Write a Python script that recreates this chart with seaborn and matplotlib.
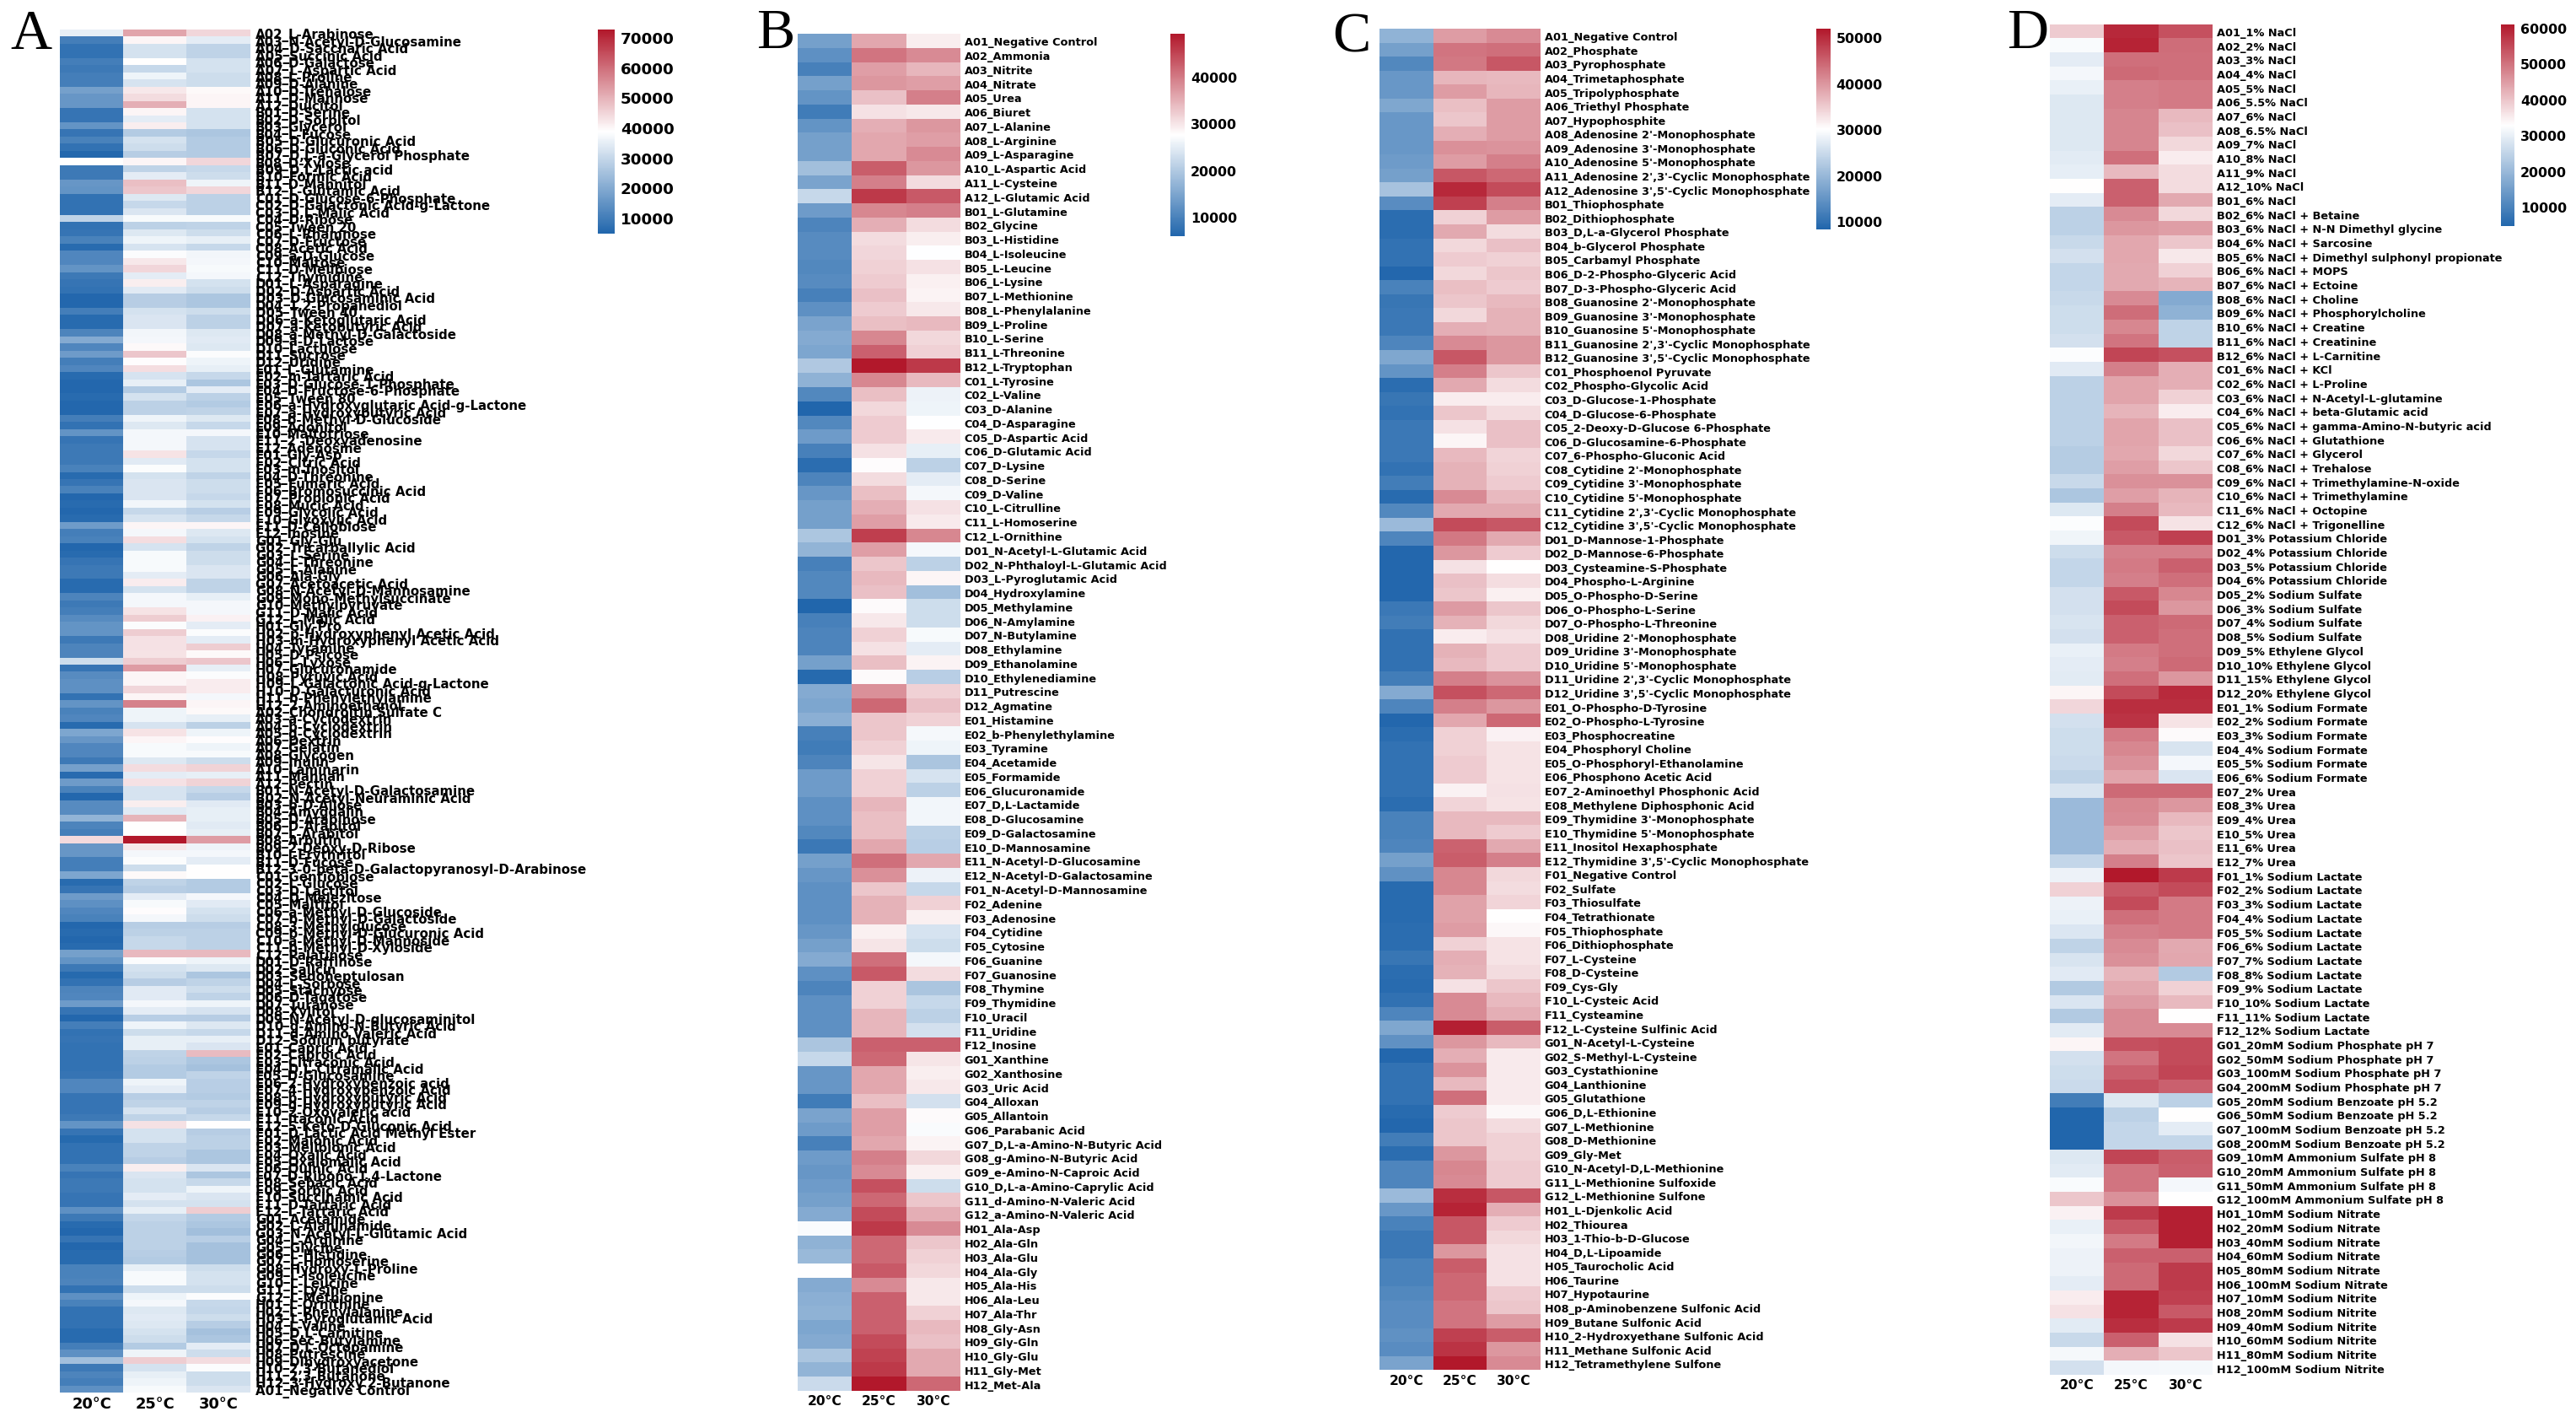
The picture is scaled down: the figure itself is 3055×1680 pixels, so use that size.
import numpy as np
import pandas as pd
import matplotlib
matplotlib.use("Agg")
import matplotlib.pyplot as plt
import seaborn as sns

W, H = 3055, 1681
temps = ["20°C", "25°C", "30°C"]

# Panel A - carbon sources, values in thousands
a_labels = [
    "A02_L-Arabinose", "A03_N-Acetyl-D-Glucosamine", "A04_D-Saccharic Acid", "A05_Succinic Acid", "A06_D-Galactose",
    "A07_L-Aspartic Acid", "A08_L-Proline", "A09_D-Alanine", "A10_D-Trehalose", "A11_D-Mannose", "A12_Dulcitol",
    "B01_D-Serine", "B02_D-Sorbitol", "B03_Glycerol", "B04_L-Fucose", "B05_D-Glucuronic Acid", "B06_D-Gluconic Acid",
    "B07_D,L-a-Glycerol Phosphate", "B08_D-Xylose", "B09_D,L-Lactic acid", "B10_Formic Acid", "B11_D-Mannitol",
    "B12_L-Glutamic Acid", "C01_D-Glucose-6-Phosphate", "C02_D-Galactonic Acid-g-Lactone", "C03_D,L-Malic Acid",
    "C04_D-Ribose", "C05_Tween 20", "C06_L-Rhamnose", "C07_D-Fructose", "C08_Acetic Acid", "C09_a-D-Glucose",
    "C10_Maltose", "C11_D-Melibiose", "C12_Thymidine", "D01_L-Asparagine", "D02_D-Aspartic Acid",
    "D03_D-Glucosaminic Acid", "D04_1,2-Propanediol", "D05_Tween 40", "D06_a-Ketoglutaric Acid", "D07_a-Ketobutyric Acid",
    "D08_a-Methyl-D-Galactoside", "D09_a-D-Lactose", "D10_Lactulose", "D11_Sucrose", "D12_Uridine", "E01_L-Glutamine",
    "E02_m-Tartaric Acid", "E03_D-Glucose-1-Phosphate", "E04_D-Fructose-6-Phosphate", "E05_Tween 80",
    "E06_a-Hydroxyglutaric Acid-g-Lactone", "E07_a-Hydroxybutyric Acid", "E08_b-Methyl-D-Glucoside", "E09_Adonitol",
    "E10_Maltotriose", "E11_2'-Deoxyadenosine", "E12_Adenosine", "F01_Gly-Asp", "F02_Citric Acid", "F03_m-Inositol",
    "F04_D-Threonine", "F05_Fumaric Acid", "F06_Bromosuccinic Acid", "F07_Propionic Acid", "F08_Mucic Acid",
    "F09_Glycolic Acid", "F10_Glyoxylic Acid", "F11_D-Cellobiose", "F12_Inosine", "G01_Gly-Glu", "G02_Tricarballylic Acid",
    "G03_L-Serine", "G04_L-Threonine", "G05_L-Alanine", "G06_Ala-Gly", "G07_Acetoacetic Acid", "G08_N-Acetyl-D-Mannosamine",
    "G09_Mono-Methylsuccinate", "G10_Methylpyruvate", "G11_D-Malic Acid", "G12_L-Malic Acid", "H01_Gly-Pro",
    "H02_p-Hydroxyphenyl Acetic Acid", "H03_m-Hydroxyphenyl Acetic Acid", "H04_Tyramine", "H05_D-Psicose", "H06_L-Lyxose",
    "H07_Glucuronamide", "H08_Pyruvic Acid", "H09_L-Galactonic Acid-g-Lactone", "H10_D-Galacturonic Acid",
    "H11_b-Phenylethylamine", "H12_2-Aminoethanol",
    "A02_Chondroitin Sulfate C", "A03_a-Cyclodextrin", "A04_b-Cyclodextrin", "A05_g-Cyclodextrin", "A06_Dextrin",
    "A07_Gelatin", "A08_Glycogen", "A09_Inulin", "A10_Laminarin", "A11_Mannan", "A12_Pectin",
    "B01_N-Acetyl-D-Galactosamine", "B02_N-Acetyl-Neuraminic Acid", "B03_b-D-Allose", "B04_Amygdalin", "B05_D-Arabinose",
    "B06_D-Arabitol", "B07_L-Arabitol", "B08_Arbutin", "B09_2-Deoxy-D-Ribose", "B10_i-Erythritol", "B11_D-Fucose",
    "B12_3-0-beta-D-Galactopyranosyl-D-Arabinose", "C01_Gentiobiose", "C02_L-Glucose", "C03_D-Lactitol", "C04_D-Melezitose",
    "C05_Maltitol", "C06_a-Methyl-D-Glucoside", "C07_b-Methyl-D-Galactoside", "C08_3-Methylglucose",
    "C09_b-Methyl-D-Glucuronic Acid", "C10_a-Methyl-D-Mannoside", "C11_b-Methyl-D-Xyloside", "C12_Palatinose",
    "D01_D-Raffinose", "D02_Salicin", "D03_Sedoheptulosan", "D04_L-Sorbose", "D05_Stachyose", "D06_D-Tagatose",
    "D07_Turanose", "D08_Xylitol", "D09_N-Acetyl-D-glucosaminitol", "D10_g-Amino-N-Butyric Acid", "D11_d-Amino Valeric Acid",
    "D12_Sodium butyrate", "E01_Capric Acid", "E02_Caproic Acid", "E03_Citraconic Acid", "E04_D,L-Citramalic Acid",
    "E05_D-Glucosamine", "E06_2-Hydroxybenzoic acid", "E07_4-Hydroxybenzoic Acid", "E08_b-Hydroxybutyric Acid",
    "E09_g-Hydroxybutyric Acid", "E10_2-Oxovaleric acid", "E11_Itaconic Acid", "E12_5-Keto-D-Gluconic Acid",
    "F01_D-Lactic Acid Methyl Ester", "F02_Malonic Acid", "F03_Melibionic Acid", "F04_Oxalic Acid", "F05_Oxalomalic Acid",
    "F06_Quinic Acid", "F07_D-Ribono-1,4-Lactone", "F08_Sebacic Acid", "F09_Sorbic Acid", "F10_Succinamic Acid",
    "F11_D-Tartaric Acid", "F12_L-Tartaric Acid", "G01_Acetamide", "G02_L-Alaninamide", "G03_N-Acetyl-L-Glutamic Acid",
    "G04_L-Arginine", "G05_Glycine", "G06_L-Histidine", "G07_L-Homoserine", "G08_Hydroxy-L-Proline", "G09_L-Isoleucine",
    "G10_L-Leucine", "G11_L-Lysine", "G12_L-Methionine", "H01_L-Ornithine", "H02_L-Phenylalanine", "H03_L-Pyroglutamic Acid",
    "H04_L-Valine", "H05_D,L-Carnitine", "H06_Sec-Butylamine", "H07_D,L-Octopamine", "H08_Putrescine", "H09_Dihydroxyacetone",
    "H10_2,3-Butanediol", "H11_2,3-Butanone", "H12_3-Hydroxy 2-Butanone", "A01_Negative Control",
]
a_20 = [
    35, 10, 7.5, 7.5, 10, 9, 10, 10, 17.5, 15.5, 15.5,
    8, 8, 15, 8, 11, 7.5, 5, 38.6, 9, 9, 15.5, 15,
    7.5, 7.5, 7.5, 29, 7.5, 8, 11, 6, 12, 12, 15, 9,
    8, 7.5, 5, 5, 10, 6, 6, 11.5, 20, 12, 16.5, 10,
    12, 6, 5, 5, 6, 5, 5, 10, 7.5, 15, 8, 9,
    9, 9, 11, 6, 8, 11, 5, 6, 5, 6, 16.5, 10,
    11, 5, 6, 8, 9, 9, 6, 6, 11.5, 9, 10, 13,
    15, 15, 9, 11.5, 11.5, 31, 8, 13, 14, 14, 7.5, 15,
    11, 12, 6, 19, 15.5, 12, 12, 9, 17.5, 6, 16.5,
    11, 5, 13, 13, 22, 11.5, 10, 44, 15.5, 15.5, 10, 10,
    19, 6, 8, 16.5, 14, 12, 11, 5, 6, 5, 6, 17.5,
    15, 9, 5.5, 7.5, 11.5, 12, 16.5, 8, 5, 10, 7.5, 8,
    7.5, 7.5, 7.5, 7.5, 8, 12, 12, 8, 8, 8, 9, 15,
    8, 5.5, 7.5, 7.5, 7.5, 11, 8, 9, 9, 8, 8, 14,
    9, 6, 5, 8, 5, 6, 6, 11, 11, 11.5, 7.5, 14,
    11, 7.5, 7.5, 7.5, 6, 6, 10, 14, 24.5, 9, 11.5, 10,
    14,
]
a_25 = [
    52, 40, 32, 32, 38.6, 30, 36, 32.5, 42, 43.7, 50.5,
    40, 34.5, 41, 27, 32, 31, 27.7, 40, 29, 34.5, 48, 47,
    33.5, 30, 33, 37.5, 28.4, 33.5, 36, 32.5, 38, 42, 44.5, 34.5,
    41, 34, 27.7, 27.7, 32, 33, 33, 36.6, 37, 39.5, 47, 39,
    43.5, 32.5, 35, 27, 32, 28.4, 28.4, 36, 33.5, 37, 37, 37,
    42.7, 34, 38, 32, 33, 33, 33, 36.6, 30, 32.5, 40, 37,
    43.5, 32.5, 37.5, 37.5, 37.5, 34.5, 41.5, 32, 37, 37, 42.7, 46,
    38, 46, 43, 43, 42.7, 46, 53, 40, 40, 44.5, 40, 57,
    36, 36, 32.5, 42.7, 40, 37.5, 37.5, 33.5, 43.7, 34.5, 43,
    32.5, 32.5, 41, 34, 49.5, 38.6, 38.6, 72.5, 42, 37, 38, 31,
    39.5, 29, 27.7, 34.5, 37.5, 39, 37, 27.7, 28.4, 30, 30, 48.8,
    38, 32, 31, 27.7, 34, 34, 37, 34.5, 28, 36, 31, 35,
    35, 29, 28.4, 27, 27, 36, 34.5, 28, 29, 32.5, 29, 43,
    32, 32, 29, 29, 27.5, 41, 33, 32, 32, 34.5, 32, 35,
    29.5, 28.4, 28.4, 28.4, 28.4, 27.5, 27, 35, 37.5, 37.5, 31, 36,
    37, 33.5, 34, 33.5, 32, 31, 27, 36, 46, 32, 35, 36,
    37.5,
]
a_30 = [
    44.5, 34.5, 29, 29, 32, 32, 31, 31, 39.6, 40, 40,
    32, 32, 32, 26, 27, 27, 27, 44.5, 30, 31, 36, 44.5,
    28.4, 28.4, 28.4, 37.5, 29, 31, 35, 30, 36.6, 37, 37.5, 37,
    32, 31, 26, 26, 31, 28.4, 28.4, 33.5, 34, 33.5, 38, 36,
    35, 30, 26, 34.5, 28.4, 27, 29, 33.5, 30, 37, 32.5, 32.5,
    30, 32, 32, 29, 31, 31, 30, 32, 28, 30, 40, 33.5,
    32, 29, 31, 31, 33, 33, 29, 29, 35, 37, 37, 40.5,
    34.5, 38, 34.5, 46, 39.5, 47, 35, 38, 41.5, 41.5, 37, 40,
    39.5, 35, 28.4, 36, 39, 36, 37.5, 31, 45, 35, 45,
    30, 28, 34, 35, 35, 34, 35, 53, 36, 37, 34.5, 38.6,
    38.6, 27, 27, 37, 34, 32, 31, 27.7, 28.4, 28.4, 28.4, 48.8,
    36, 33.5, 26, 29, 31, 29, 36, 32.5, 27.7, 33.5, 30, 35,
    33, 48.5, 26, 25, 29, 28, 28, 27, 29, 27.5, 30, 38.6,
    27.7, 28.4, 28.4, 26, 26, 33, 26, 30, 36, 33, 32, 46,
    27, 26, 24.5, 28, 25, 25, 25, 31, 32, 32, 31, 38,
    30, 29.5, 31, 27.7, 25, 26, 34.5, 31, 43.7, 38, 31, 31,
    33,
]

# Panel B - nitrogen sources
b_labels = [
    "A01_Negative Control", "A02_Ammonia", "A03_Nitrite", "A04_Nitrate", "A05_Urea", "A06_Biuret", "A07_L-Alanine",
    "A08_L-Arginine", "A09_L-Asparagine", "A10_L-Aspartic Acid", "A11_L-Cysteine", "A12_L-Glutamic Acid",
    "B01_L-Glutamine", "B02_Glycine", "B03_L-Histidine", "B04_L-Isoleucine", "B05_L-Leucine", "B06_L-Lysine",
    "B07_L-Methionine", "B08_L-Phenylalanine", "B09_L-Proline", "B10_L-Serine", "B11_L-Threonine", "B12_L-Tryptophan",
    "C01_L-Tyrosine", "C02_L-Valine", "C03_D-Alanine", "C04_D-Asparagine", "C05_D-Aspartic Acid", "C06_D-Glutamic Acid",
    "C07_D-Lysine", "C08_D-Serine", "C09_D-Valine", "C10_L-Citrulline", "C11_L-Homoserine", "C12_L-Ornithine",
    "D01_N-Acetyl-L-Glutamic Acid", "D02_N-Phthaloyl-L-Glutamic Acid", "D03_L-Pyroglutamic Acid", "D04_Hydroxylamine",
    "D05_Methylamine", "D06_N-Amylamine", "D07_N-Butylamine", "D08_Ethylamine", "D09_Ethanolamine", "D10_Ethylenediamine",
    "D11_Putrescine", "D12_Agmatine", "E01_Histamine", "E02_b-Phenylethylamine", "E03_Tyramine", "E04_Acetamide",
    "E05_Formamide", "E06_Glucuronamide", "E07_D,L-Lactamide", "E08_D-Glucosamine", "E09_D-Galactosamine",
    "E10_D-Mannosamine", "E11_N-Acetyl-D-Glucosamine", "E12_N-Acetyl-D-Galactosamine", "F01_N-Acetyl-D-Mannosamine",
    "F02_Adenine", "F03_Adenosine", "F04_Cytidine", "F05_Cytosine", "F06_Guanine", "F07_Guanosine", "F08_Thymine",
    "F09_Thymidine", "F10_Uracil", "F11_Uridine", "F12_Inosine", "G01_Xanthine", "G02_Xanthosine", "G03_Uric Acid",
    "G04_Alloxan", "G05_Allantoin", "G06_Parabanic Acid", "G07_D,L-a-Amino-N-Butyric Acid", "G08_g-Amino-N-Butyric Acid",
    "G09_e-Amino-N-Caproic Acid", "G10_D,L-a-Amino-Caprylic Acid", "G11_d-Amino-N-Valeric Acid", "G12_a-Amino-N-Valeric Acid",
    "H01_Ala-Asp", "H02_Ala-Gln", "H03_Ala-Glu", "H04_Ala-Gly", "H05_Ala-His", "H06_Ala-Leu", "H07_Ala-Thr", "H08_Gly-Asn",
    "H09_Gly-Gln", "H10_Gly-Glu", "H11_Gly-Met", "H12_Met-Ala",
]
b_20 = [
    14, 11.9, 9.7, 14, 12.3, 9, 12.3, 14, 14, 18.4, 14.5, 22,
    13.4, 10.1, 11.2, 11.2, 10.6, 11.2, 9.7, 11.9, 14.5, 15.6, 14.9, 19.9,
    16.6, 10.6, 6, 10.6, 13.4, 9.7, 7, 10.1, 12.7, 14, 14, 19.5,
    17, 9.7, 10.6, 10.6, 6, 9.7, 10.1, 10.1, 14, 6.5, 15.6, 14.9,
    16.2, 9.7, 9, 10.1, 13.4, 13.4, 11.9, 11.9, 10.6, 8.4, 14, 12.7,
    11.9, 11.9, 11.9, 12.7, 14, 15.6, 11.9, 10.1, 11.9, 11.9, 11.9, 19.3,
    22, 12.7, 12.7, 9, 14.5, 13.4, 9.7, 13.4, 12.7, 13.4, 14, 15.6,
    27, 16.6, 17.7, 27.5, 15.6, 16.2, 16.6, 14.9, 15.6, 19.3, 17, 22.3,
]
b_25 = [
    35.7, 40.5, 36.6, 37.3, 33.4, 30.3, 35, 35.7, 35.7, 42.7, 39.4, 46,
    38.8, 35, 30.8, 31.4, 31.8, 32.3, 33.4, 32.3, 33.6, 38.8, 42.3, 49.2,
    38.8, 33.6, 31.2, 32.3, 32.3, 30.3, 27.8, 30.8, 33.6, 35, 36.6, 45.5,
    36.6, 32.9, 34, 33.4, 28, 29.7, 31.8, 30.3, 33.6, 28, 37.9, 41.6,
    32.9, 32.9, 31.8, 30, 31.8, 31.8, 34.4, 33.6, 33.6, 35.7, 41, 37.9,
    32.9, 34.7, 34.7, 29, 30, 41, 43.1, 31.8, 31.8, 34.4, 34.4, 42.3,
    41.6, 35.7, 35.7, 33.6, 36.6, 36.6, 35.7, 39.4, 38.4, 43.8, 41.6, 44.4,
    46, 41.6, 41.6, 43.1, 38.4, 42.3, 42.3, 42.3, 44.4, 45.3, 46, 49.2,
]
b_30 = [
    29.2, 38.4, 34.4, 36.6, 39.4, 29.7, 37.3, 36.6, 38.4, 37.3, 30.8, 43.1,
    39.4, 30.8, 29.2, 27.5, 30.3, 29, 28.6, 29.7, 34, 31.2, 31.8, 46,
    34, 25.8, 26, 27.5, 29.5, 25.3, 21, 24.9, 26.4, 30.3, 29.5, 38.8,
    26.4, 21, 28.4, 18.4, 22.7, 22.7, 26.8, 24.9, 28.6, 20.6, 31.8, 33.4,
    31.8, 26.6, 26, 19.3, 23.6, 21, 26.2, 26.2, 21, 20.6, 35.7, 25.8,
    22, 31.8, 29, 23.6, 22.7, 26.4, 30.8, 19.3, 22, 21, 23.2, 42.3,
    30, 29.2, 29.7, 23.2, 28, 27, 28.6, 31.2, 29, 22.7, 32.9, 35,
    38.4, 32.9, 31.8, 31.2, 29.7, 29.7, 31.8, 34, 33.4, 35.5, 35.5, 41.6,
]

# Panel C - phosphorus and sulfur sources
c_labels = [
    "A01_Negative Control", "A02_Phosphate", "A03_Pyrophosphate", "A04_Trimetaphosphate", "A05_Tripolyphosphate",
    "A06_Triethyl Phosphate", "A07_Hypophosphite", "A08_Adenosine 2'-Monophosphate", "A09_Adenosine 3'-Monophosphate",
    "A10_Adenosine 5'-Monophosphate", "A11_Adenosine 2',3'-Cyclic Monophosphate", "A12_Adenosine 3',5'-Cyclic Monophosphate",
    "B01_Thiophosphate", "B02_Dithiophosphate", "B03_D,L-a-Glycerol Phosphate", "B04_b-Glycerol Phosphate",
    "B05_Carbamyl Phosphate", "B06_D-2-Phospho-Glyceric Acid", "B07_D-3-Phospho-Glyceric Acid",
    "B08_Guanosine 2'-Monophosphate", "B09_Guanosine 3'-Monophosphate", "B10_Guanosine 5'-Monophosphate",
    "B11_Guanosine 2',3'-Cyclic Monophosphate", "B12_Guanosine 3',5'-Cyclic Monophosphate", "C01_Phosphoenol Pyruvate",
    "C02_Phospho-Glycolic Acid", "C03_D-Glucose-1-Phosphate", "C04_D-Glucose-6-Phosphate", "C05_2-Deoxy-D-Glucose 6-Phosphate",
    "C06_D-Glucosamine-6-Phosphate", "C07_6-Phospho-Gluconic Acid", "C08_Cytidine 2'-Monophosphate",
    "C09_Cytidine 3'-Monophosphate", "C10_Cytidine 5'-Monophosphate", "C11_Cytidine 2',3'-Cyclic Monophosphate",
    "C12_Cytidine 3',5'-Cyclic Monophosphate", "D01_D-Mannose-1-Phosphate", "D02_D-Mannose-6-Phosphate",
    "D03_Cysteamine-S-Phosphate", "D04_Phospho-L-Arginine", "D05_O-Phospho-D-Serine", "D06_O-Phospho-L-Serine",
    "D07_O-Phospho-L-Threonine", "D08_Uridine 2'-Monophosphate", "D09_Uridine 3'-Monophosphate", "D10_Uridine 5'-Monophosphate",
    "D11_Uridine 2',3'-Cyclic Monophosphate", "D12_Uridine 3',5'-Cyclic Monophosphate", "E01_O-Phospho-D-Tyrosine",
    "E02_O-Phospho-L-Tyrosine", "E03_Phosphocreatine", "E04_Phosphoryl Choline", "E05_O-Phosphoryl-Ethanolamine",
    "E06_Phosphono Acetic Acid", "E07_2-Aminoethyl Phosphonic Acid", "E08_Methylene Diphosphonic Acid",
    "E09_Thymidine 3'-Monophosphate", "E10_Thymidine 5'-Monophosphate", "E11_Inositol Hexaphosphate",
    "E12_Thymidine 3',5'-Cyclic Monophosphate", "F01_Negative Control", "F02_Sulfate", "F03_Thiosulfate", "F04_Tetrathionate",
    "F05_Thiophosphate", "F06_Dithiophosphate", "F07_L-Cysteine", "F08_D-Cysteine", "F09_Cys-Gly", "F10_L-Cysteic Acid",
    "F11_Cysteamine", "F12_L-Cysteine Sulfinic Acid", "G01_N-Acetyl-L-Cysteine", "G02_S-Methyl-L-Cysteine", "G03_Cystathionine",
    "G04_Lanthionine", "G05_Glutathione", "G06_D,L-Ethionine", "G07_L-Methionine", "G08_D-Methionine", "G09_Gly-Met",
    "G10_N-Acetyl-D,L-Methionine", "G11_L-Methionine Sulfoxide", "G12_L-Methionine Sulfone", "H01_L-Djenkolic Acid",
    "H02_Thiourea", "H03_1-Thio-b-D-Glucose", "H04_D,L-Lipoamide", "H05_Taurocholic Acid", "H06_Taurine", "H07_Hypotaurine",
    "H08_p-Aminobenzene Sulfonic Acid", "H09_Butane Sulfonic Acid", "H10_2-Hydroxyethane Sulfonic Acid",
    "H11_Methane Sulfonic Acid", "H12_Tetramethylene Sulfone",
]
c_20 = [
    19.2, 16.6, 13.1, 15.3, 15.3, 17.5, 15.3, 15.3, 15.3, 15.9, 16.6, 21.4,
    13.8, 9.4, 9.4, 10, 10, 8.5, 12.2, 10.5, 10.9, 10.9, 12.7, 17.5,
    14.8, 9.4, 10.5, 10, 10.9, 10.9, 10.9, 10, 11.6, 9, 13.1, 20.3,
    12.7, 8.5, 8.5, 8.5, 8.5, 10.9, 11.6, 9.8, 9.8, 9.8, 11.6, 18.1,
    12.7, 8.5, 9.4, 10, 10, 10, 10, 9.4, 12.2, 12.2, 12.7, 16.6,
    14.4, 9, 9, 9, 9.4, 9.4, 10.5, 9.4, 9, 9.8, 12.7, 17.5,
    14.4, 8.5, 10, 10, 10, 9, 8.5, 11.6, 9.4, 12.7, 12.7, 20.3,
    15.3, 12.2, 10.9, 10.9, 12.2, 12.2, 13.1, 13.8, 13.8, 14.4, 13.8, 17,
]
c_25 = [
    39.3, 43.2, 42.7, 37, 39.3, 36.2, 35.5, 37.7, 40.6, 39.3, 45.8, 50.2,
    48, 34.5, 38.2, 33.8, 34.9, 33.8, 36.2, 35.5, 33.8, 37.7, 41, 45.8,
    42.1, 38.2, 31.8, 35.5, 32.9, 31, 36.6, 37.3, 37.3, 41, 38.2, 47.1,
    42.7, 39.9, 32.9, 36, 35.5, 39.5, 37.3, 31.8, 37.3, 36.6, 42.1, 46.5,
    42.1, 38.4, 34.5, 34.5, 34.9, 34.9, 31.4, 34, 36.6, 36.6, 44.9, 45.4,
    41.4, 41.4, 38.8, 38.8, 39.3, 34.5, 37.7, 37.3, 32.9, 41, 41, 51.2,
    39.9, 37.7, 40.3, 36.6, 43.6, 34.9, 35.5, 35.5, 39.9, 41.4, 41, 49.7,
    50.8, 45.8, 45.8, 39.9, 45.4, 44.3, 44.3, 43.2, 43.2, 48, 49.3, 51.9,
]
c_30 = [
    41, 43.6, 45.8, 36.6, 37, 39.3, 39.3, 39.3, 40.3, 42.1, 44.3, 47.1,
    42.1, 39.3, 33.4, 36, 34.5, 35.5, 34.9, 36.6, 37.3, 37.3, 39.9, 39.9,
    35.5, 33.4, 31.8, 33.4, 36, 36, 34, 34.5, 34.9, 36.6, 38.2, 45.8,
    38.2, 34.9, 30.1, 33.2, 31.6, 35.5, 33.8, 32.9, 34.9, 34.9, 40.3, 44.3,
    39.9, 44.3, 31.4, 32.7, 32.7, 32.7, 32.9, 32.7, 36.6, 34.9, 38.2, 42.1,
    33.8, 33.4, 34, 30.1, 30.8, 32.7, 32.7, 33.4, 35.5, 36.6, 37.7, 45.4,
    36.6, 32, 32, 32, 32, 30.8, 33.4, 34.5, 34.5, 34.9, 34.9, 45.8,
    37.7, 34.9, 33.8, 32.9, 32.9, 32.9, 34.9, 35.5, 39.3, 45.4, 39.9, 41,
]

# Panel D - osmolytes
d_labels = [
    "A01_1% NaCl", "A02_2% NaCl", "A03_3% NaCl", "A04_4% NaCl", "A05_5% NaCl", "A06_5.5% NaCl", "A07_6% NaCl", "A08_6.5% NaCl",
    "A09_7% NaCl", "A10_8% NaCl", "A11_9% NaCl", "A12_10% NaCl", "B01_6% NaCl", "B02_6% NaCl + Betaine",
    "B03_6% NaCl + N-N Dimethyl glycine", "B04_6% NaCl + Sarcosine", "B05_6% NaCl + Dimethyl sulphonyl propionate",
    "B06_6% NaCl + MOPS", "B07_6% NaCl + Ectoine", "B08_6% NaCl + Choline", "B09_6% NaCl + Phosphorylcholine",
    "B10_6% NaCl + Creatine", "B11_6% NaCl + Creatinine", "B12_6% NaCl + L-Carnitine", "C01_6% NaCl + KCl",
    "C02_6% NaCl + L-Proline", "C03_6% NaCl + N-Acetyl-L-glutamine", "C04_6% NaCl + beta-Glutamic acid",
    "C05_6% NaCl + gamma-Amino-N-butyric acid", "C06_6% NaCl + Glutathione", "C07_6% NaCl + Glycerol", "C08_6% NaCl + Trehalose",
    "C09_6% NaCl + Trimethylamine-N-oxide", "C10_6% NaCl + Trimethylamine", "C11_6% NaCl + Octopine", "C12_6% NaCl + Trigonelline",
    "D01_3% Potassium Chloride", "D02_4% Potassium Chloride", "D03_5% Potassium Chloride", "D04_6% Potassium Chloride",
    "D05_2% Sodium Sulfate", "D06_3% Sodium Sulfate", "D07_4% Sodium Sulfate", "D08_5% Sodium Sulfate", "D09_5% Ethylene Glycol",
    "D10_10% Ethylene Glycol", "D11_15% Ethylene Glycol", "D12_20% Ethylene Glycol", "E01_1% Sodium Formate",
    "E02_2% Sodium Formate", "E03_3% Sodium Formate", "E04_4% Sodium Formate", "E05_5% Sodium Formate", "E06_6% Sodium Formate",
    "E07_2% Urea", "E08_3% Urea", "E09_4% Urea", "E10_5% Urea", "E11_6% Urea", "E12_7% Urea", "F01_1% Sodium Lactate",
    "F02_2% Sodium Lactate", "F03_3% Sodium Lactate", "F04_4% Sodium Lactate", "F05_5% Sodium Lactate", "F06_6% Sodium Lactate",
    "F07_7% Sodium Lactate", "F08_8% Sodium Lactate", "F09_9% Sodium Lactate", "F10_10% Sodium Lactate", "F11_11% Sodium Lactate",
    "F12_12% Sodium Lactate", "G01_20mM Sodium Phosphate pH 7", "G02_50mM Sodium Phosphate pH 7", "G03_100mM Sodium Phosphate pH 7",
    "G04_200mM Sodium Phosphate pH 7", "G05_20mM Sodium Benzoate pH 5.2", "G06_50mM Sodium Benzoate pH 5.2",
    "G07_100mM Sodium Benzoate pH 5.2", "G08_200mM Sodium Benzoate pH 5.2", "G09_10mM Ammonium Sulfate pH 8",
    "G10_20mM Ammonium Sulfate pH 8", "G11_50mM Ammonium Sulfate pH 8", "G12_100mM Ammonium Sulfate pH 8",
    "H01_10mM Sodium Nitrate", "H02_20mM Sodium Nitrate", "H03_40mM Sodium Nitrate", "H04_60mM Sodium Nitrate",
    "H05_80mM Sodium Nitrate", "H06_100mM Sodium Nitrate", "H07_10mM Sodium Nitrite", "H08_20mM Sodium Nitrite",
    "H09_40mM Sodium Nitrite", "H10_60mM Sodium Nitrite", "H11_80mM Sodium Nitrite", "H12_100mM Sodium Nitrite",
]
d_20 = [
    39, 32, 29.4, 31.3, 30, 28.5, 28.5, 28.5, 28.5, 29, 29.6, 32.75,
    29.4, 24.3, 24.3, 25.7, 27.1, 25.1, 25.1, 25.7, 26.5, 26.5, 27.1, 32.5,
    28.8, 24.3, 24.3, 24.3, 24.3, 24.3, 23.4, 23.4, 25.7, 22.3, 28.5, 32.5,
    30.8, 26.5, 25.1, 25.1, 27.1, 27.1, 27.7, 27.1, 30, 29.4, 29, 34,
    37.8, 27.1, 26.5, 26.5, 26, 24.8, 27.7, 20, 20, 20, 20, 25.1,
    30.5, 38.4, 30.5, 30, 28.2, 24.8, 27.7, 28.8, 22.9, 28, 22.9, 29,
    34, 27.1, 26.5, 26, 8.7, 4.5, 4.5, 4.5, 28.5, 29, 32, 39.8,
    34.5, 30, 31, 30.5, 30.5, 29.4, 35, 36.4, 29, 25.7, 31.6, 27.1,
]
d_25 = [
    59, 59.6, 50.3, 51, 48.3, 48.3, 47.7, 47.7, 47.7, 50.3, 41.2, 52,
    52, 46.9, 45.5, 43.5, 43.5, 43.2, 43.2, 46.9, 50.5, 47.4, 49.7, 55.4,
    48.3, 44, 44, 42, 44, 44, 43.5, 44.6, 46.3, 44.6, 48.3, 54.8,
    53, 48.3, 49, 48.3, 53, 54.8, 52, 52, 49, 48.3, 50.3, 54.8,
    58.2, 57.6, 49, 47.4, 46, 44, 51, 47.4, 46.9, 44.6, 42.6, 48.3,
    61, 53, 54.8, 50.3, 48.3, 46.9, 46.3, 41.8, 43.5, 45, 46.9, 46.9,
    54, 49.7, 52, 54, 28.5, 24.3, 25.1, 25.1, 55.4, 49.7, 49.7, 46,
    56.8, 53, 49, 52, 51, 51, 59.6, 59.6, 58.2, 52, 42.6, 31.3,
]
d_30 = [
    54, 50.5, 50.3, 50.3, 48.9, 48.9, 41.2, 40.4, 37.5, 35, 37, 37,
    43.2, 37.5, 44.6, 39.8, 35.6, 38.4, 41.8, 17.2, 18.6, 24.8, 24.8, 54,
    42.6, 42.6, 38.4, 35, 40.4, 40.4, 37.5, 39.8, 46, 42, 41.2, 36.1,
    56, 48.3, 52, 50.3, 47.4, 45.5, 51, 50.3, 50.3, 51, 45.5, 58.7,
    58.2, 36.1, 33.3, 27.7, 31.3, 28, 51, 45.5, 41.2, 39.8, 40.4, 39.8,
    56.8, 54.8, 49, 49, 49, 43.2, 43.5, 22.9, 38.4, 41.2, 32.75, 46.9,
    54.8, 54.8, 55.4, 52, 24.3, 32.75, 29.4, 25.1, 52.5, 52, 31.3, 32.75,
    60, 60, 60, 52, 56.8, 56.8, 56, 53, 56.8, 36.4, 39.8, 31.6,
]

cmap = sns.blend_palette(["#2166ac", "#ffffff", "#b2182b"], as_cmap=True)

fig = plt.figure(figsize=(W / 100, H / 100), dpi=100, facecolor="white")


def px_axes(x0, y0, x1, y1):
    # pixel box (top-left origin) to figure axes
    return fig.add_axes([x0 / W, 1 - y1 / H, (x1 - x0) / W, (y1 - y0) / H])


def draw_panel(letter, letter_xy, box, cbar_box, labels, cols, vmin, vmax, cticks, fs_y, fs_x, fs_c, pad_y):
    df = pd.DataFrame({t: np.array(c) * 1000 for t, c in zip(temps, cols)}, index=labels)
    ax = px_axes(*box)
    cax = px_axes(*cbar_box)
    sns.heatmap(df, ax=ax, cbar_ax=cax, cmap=cmap, vmin=vmin, vmax=vmax,
                xticklabels=True, yticklabels=True, cbar_kws={"ticks": cticks})
    ax.yaxis.tick_right()
    ax.tick_params(axis="y", length=0, pad=pad_y, labelsize=fs_y, labelrotation=0)
    ax.tick_params(axis="x", length=0, pad=3, labelsize=fs_x, labelrotation=0)
    for t in ax.get_yticklabels() + ax.get_xticklabels():
        t.set_fontweight("bold")
    cax.tick_params(length=0, pad=5, labelsize=fs_c)
    for t in cax.get_yticklabels():
        t.set_fontweight("bold")
    fig.text(letter_xy[0] / W, 1 - letter_xy[1] / H, letter, family="Liberation Serif",
             fontsize=49, ha="left", va="baseline")


draw_panel("A", (12, 58), (71, 36, 296.5, 1652), (709, 36, 729, 278), a_labels, [a_20, a_25, a_30],
           4700, 72500, [10000, 20000, 30000, 40000, 50000, 60000, 70000], 10.8, 12.9, 13.2, 4.5)
draw_panel("B", (897, 57), (945.6, 41, 1139, 1650), (1388, 41, 1405, 281), b_labels, [b_20, b_25, b_30],
           5850, 49200, [10000, 20000, 30000, 40000], 9.3, 11.2, 11.4, 3.5)
draw_panel("C", (1580, 62), (1636, 35, 1827, 1625.5), (2154, 35, 2170.6, 273), c_labels, [c_20, c_25, c_30],
           8250, 51900, [10000, 20000, 30000, 40000, 50000], 9.3, 11.2, 11.4, 3.5)
draw_panel("D", (2380, 57), (2431, 29.5, 2624, 1631), (2966, 29.5, 2982, 269.4), d_labels, [d_20, d_25, d_30],
           4500, 61000, [10000, 20000, 30000, 40000, 50000, 60000], 9.3, 11.2, 11.4, 3.5)

fig.savefig("out.png", dpi=100)
